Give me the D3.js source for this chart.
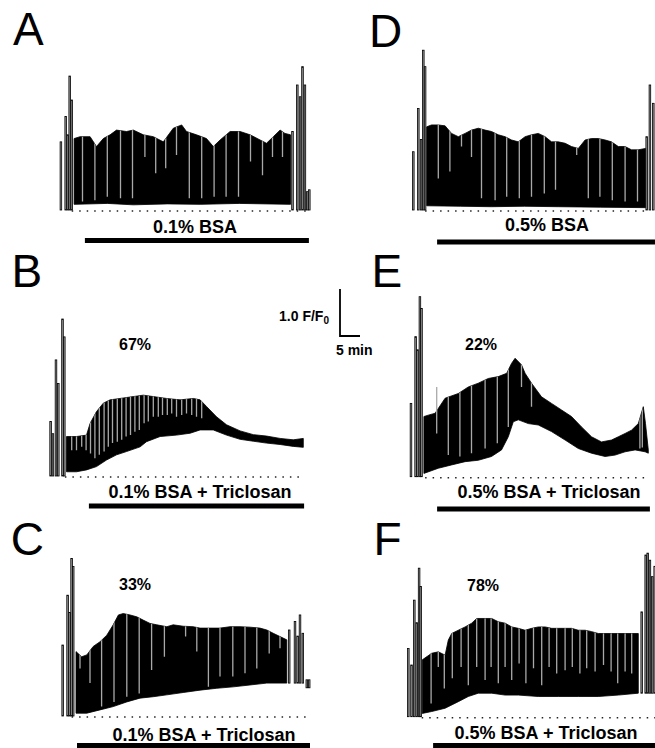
<!DOCTYPE html>
<html>
<head>
<meta charset="utf-8">
<script src="https://cdn.jsdelivr.net/npm/d3@7"></script>
<style>
  body { margin: 0; background: #fff; }
  svg { display: block; }
  text { font-family: "Liberation Sans", Arial, Helvetica, sans-serif; }
</style>
</head>
<body>
<svg id="fig" width="655" height="748"></svg>
<script>
// all traces: time in minutes from the start of the trace,
// value in F/F0 units above the dotted baseline

// ---- A : 0.1% BSA
const aTop = [[3.7,1.52],[5.2,1.56],[7.7,1.56],[9.3,1.35],[11.0,1.52],[12.7,1.6],[14.3,1.7],[16.8,1.67],[18.5,1.7],[21.0,1.6],[23.5,1.56],[26.0,1.45],[28.5,1.74],[30.6,1.81],[31.8,1.67],[34.3,1.6],[36.8,1.52],[38.5,1.35],[40.2,1.49],[42.7,1.67],[45.2,1.67],[47.7,1.6],[50.2,1.49],[51.8,1.42],[53.5,1.56],[55.2,1.7],[56.4,1.63],[57.8,1.6]];
const aBottom = [[3.7,0.12],[12.0,0.14],[18.5,0.11],[27.0,0.13],[35.2,0.12],[45.0,0.14],[57.8,0.12]];
const aGaps = [[5.8,0.18],[8.9,0.21],[12.0,0.28],[15.3,0.25],[18.3,0.25],[21.4,1.13],[24.1,0.78],[26.6,0.89],[29.3,1.17],[32.5,0.25],[35.6,0.25],[38.7,0.28],[41.7,0.28],[44.8,0.28],[47.8,1.03],[50.8,0.74],[53.3,1.13],[55.8,1.13]];
const aSpikes = [[0.4,1.45],[1.6,1.99],[2.1,1.6],[2.6,2.85],[3.1,2.34],[58.3,1.67],[59.5,2.66],[60.2,2.41],[60.8,3.05],[61.4,2.66],[62.0,0.39],[62.5,0.43]];

// ---- D : 0.5% BSA
const dTop = [[3.6,1.77],[4.8,1.81],[6.5,1.81],[8.2,1.79],[9.8,1.63],[11.5,1.56],[13.2,1.63],[14.8,1.7],[16.5,1.74],[18.2,1.7],[19.8,1.67],[21.5,1.6],[23.2,1.56],[24.8,1.49],[26.5,1.45],[28.2,1.56],[29.8,1.6],[31.5,1.63],[33.2,1.56],[34.8,1.45],[36.5,1.45],[38.2,1.42],[39.8,1.35],[41.5,1.31],[43.2,1.49],[44.8,1.52],[46.5,1.52],[48.2,1.49],[49.8,1.45],[51.5,1.35],[53.2,1.35],[54.8,1.28],[56.5,1.28],[58.3,1.31]];
const dBottom = [[3.6,0.09],[12.0,0.08],[19.8,0.07],[28.0,0.08],[36.5,0.07],[47.0,0.06],[58.3,0.05]];
const dGaps = [[6.5,0.67],[9.4,0.82],[12.3,1.35],[14.8,1.13],[17.3,0.25],[20.7,0.21],[23.6,0.28],[26.75,0.25],[29.8,0.28],[33.0,0.35],[35.8,0.43],[41.1,1.17],[44.0,0.25],[46.9,0.28],[50.0,0.21],[53.2,0.18],[56.3,0.18]];
const dSpikes = [[0.25,1.24],[1.5,2.16],[2.2,1.5],[2.75,3.4],[3.2,3.05],[58.6,1.56],[59.4,2.66],[60.25,2.27],[61.0,2.9]];

// ---- B : 0.1% BSA + Triclosan (67%)
const bTop = [[4.3,0.84],[6.8,0.84],[9.3,0.87],[10.2,1.12],[11.8,1.37],[13.5,1.55],[15.2,1.62],[17.7,1.65],[21.0,1.69],[23.5,1.72],[26.0,1.69],[29.3,1.65],[32.7,1.62],[36.0,1.65],[37.7,1.62],[39.3,1.48],[41.8,1.26],[44.3,1.09],[47.7,0.96],[51.0,0.88],[54.3,0.85],[57.7,0.8],[61.0,0.77],[63.5,0.8]];
const bBottom = [[4.3,0.09],[6.8,0.09],[9.3,0.13],[11.8,0.2],[14.3,0.34],[16.8,0.45],[19.3,0.52],[22.7,0.62],[24.3,0.73],[27.7,0.84],[31.8,0.87],[35.2,0.91],[37.7,0.98],[41.0,0.98],[44.3,0.87],[47.7,0.78],[51.0,0.74],[54.3,0.7],[57.7,0.67],[61.0,0.63],[63.5,0.61]];
const bGaps = [[5.6,0.55],[6.8,0.55],[8.1,0.62],[9.2,0.55],[10.3,0.48],[11.4,0.38],[12.5,0.45],[13.7,0.52],[14.75,0.62],[15.8,0.7],[17.0,0.73],[18.1,0.77],[19.2,0.84],[20.3,0.87],[21.4,0.94],[22.5,0.98],[23.7,1.12],[24.75,1.16],[26.0,1.26],[27.25,1.26],[28.3,1.3],[29.5,1.3],[30.6,1.33],[31.8,1.26],[33.1,1.3],[34.3,1.33],[35.6,1.3],[36.8,1.26],[38.1,1.23]];
const bSpikes = [[0.33,1.16],[0.9,0.9],[1.67,2.47],[2.25,1.97],[3.3,3.34],[3.75,2.96]];

// ---- E : 0.5% BSA + Triclosan (22%)
const eTop = [[3.9,1.28],[5.0,1.31],[6.7,1.35],[9.2,1.67],[12.5,1.77],[15.0,1.91],[17.5,1.99],[20.0,2.09],[22.5,2.13],[24.6,2.2],[25.8,2.41],[26.7,2.52],[28.3,2.38],[29.2,2.2],[30.8,1.99],[33.3,1.7],[35.8,1.56],[38.3,1.42],[40.8,1.28],[43.3,1.06],[45.8,0.85],[48.3,0.74],[50.8,0.78],[52.5,0.85],[54.2,0.92],[55.8,0.99],[57.5,1.13],[58.75,1.49],[59.3,1.13],[60.0,0.57]];
const eBottom = [[3.9,0.07],[7.5,0.18],[10.8,0.25],[14.2,0.32],[17.5,0.35],[20.8,0.43],[23.3,0.57],[25.0,0.85],[26.25,1.17],[27.5,1.21],[30.0,1.13],[32.5,1.1],[35.8,0.96],[39.2,0.78],[42.5,0.6],[45.8,0.5],[49.2,0.43],[51.7,0.46],[54.2,0.53],[56.7,0.57],[59.2,0.53],[60.0,0.5]];
const eGaps = [[7.1,0.92,1.91],[10.0,0.46],[12.9,0.43],[15.8,0.5],[19.2,0.6],[22.25,0.71],[25.0,1.06],[28.3,1.91],[30.8,1.49],[57.9,0.6],[58.5,0.62]];
const eSpikes = [[0.67,1.56],[1.83,2.98],[2.3,2.7],[2.9,3.83],[3.3,3.58]];

// ---- C : 0.1% BSA + Triclosan (33%)
const cTop = [[4.0,1.37],[5.4,1.26],[6.7,1.3],[8.3,1.48],[10.0,1.58],[11.7,1.72],[13.3,1.94],[14.6,2.15],[15.8,2.18],[17.5,2.15],[19.2,2.11],[20.8,2.04],[22.5,1.97],[24.2,1.94],[26.7,1.9],[28.3,1.94],[30.8,1.91],[33.3,1.9],[35.0,1.87],[37.5,1.87],[40.0,1.87],[42.5,1.9],[45.0,1.9],[47.5,1.89],[50.0,1.87],[51.7,1.83],[53.3,1.76],[55.0,1.69],[56.7,1.62]];
const cBottom = [[4.0,0.06],[6.7,0.06],[10.0,0.13],[13.3,0.2],[16.7,0.3],[20.0,0.38],[23.3,0.41],[26.7,0.45],[30.8,0.5],[35.0,0.55],[39.2,0.59],[43.3,0.62],[47.5,0.66],[51.7,0.7],[56.7,0.7]];
const cGaps = [[5.0,1.01],[7.5,0.7],[10.4,0.2],[13.5,0.3],[16.7,0.41],[19.8,0.48],[22.9,0.98],[26.1,1.26],[31.4,1.69],[34.2,1.37],[37.1,0.62],[40.0,0.84],[43.2,0.84],[46.25,0.91],[49.2,1.01],[52.3,1.33],[55.0,1.44]];
const cSpikes = [[0.67,1.51],[1.9,2.57],[2.4,2.2],[2.9,3.35],[3.3,3.18],[57.3,1.83,0.7],[58.75,2.01,0.7],[59.4,1.7,0.7],[60.0,2.15,0.7],[60.7,1.76,0.7],[61.7,0.77,0.6],[62.3,0.77,0.6]];

// ---- F : 0.5% BSA + Triclosan (78%)
const fTop = [[3.9,1.21],[6.25,1.35],[7.9,1.38],[9.6,1.31],[10.4,1.63],[11.25,1.77],[12.9,1.84],[14.6,1.91],[16.25,1.99],[17.5,2.09],[19.6,2.09],[21.25,2.09],[22.9,2.02],[24.6,1.99],[26.25,1.91],[27.9,1.88],[29.6,1.84],[31.25,1.88],[32.9,1.91],[34.6,1.91],[36.25,1.88],[37.9,1.88],[39.6,1.88],[41.25,1.88],[42.9,1.84],[44.6,1.84],[46.25,1.81],[47.9,1.77],[51.25,1.77],[54.6,1.77],[57.9,1.77]];
const fBottom = [[3.9,0.07],[6.25,0.11],[9.6,0.18],[12.9,0.32],[15.4,0.43],[17.9,0.5],[21.25,0.5],[24.6,0.46],[27.9,0.46],[32.9,0.43],[37.9,0.43],[42.9,0.43],[47.9,0.43],[52.9,0.46],[57.9,0.5]];
const fGaps = [[6.1,0.28],[7.9,1.06],[9.4,0.6],[11.4,0.82],[13.6,1.06],[15.4,0.67],[17.5,1.06],[19.6,0.78],[21.1,1.06],[22.9,0.71],[24.6,1.06],[26.25,0.78],[28.1,1.13],[29.8,0.71],[31.7,1.03],[33.75,0.67],[35.6,1.06],[37.5,0.92],[39.6,0.99],[41.4,1.06],[43.3,0.92],[45.0,1.03],[47.1,0.96],[49.2,1.1],[51.1,0.96],[52.75,0.71],[54.6,0.96],[56.25,0.92]];
const fSpikes = [[0.4,1.45],[1.2,1.1],[1.9,2.48],[2.5,2.0],[3.1,3.16],[3.5,2.77],[58.75,2.23,0.5],[59.75,3.44,0.5],[60.25,3.48,0.5],[60.8,3.33,0.5],[61.4,2.98,0.5],[62.0,3.2,0.5]];

// treatment bar (min) and dotted baseline (min)
const barSpans = { A: [6.4, 62.4], D: [6.2, 62], B: [9.9, 63.7], E: [7.2, 60.4], C: [4.25, 62.5], F: [6.6, 62.5] };
const dotSpans = { A: [3.1, 62.7], D: [3.2, 58.2], B: [3.9, 63.9], E: [4.2, 59.2], C: [2.9, 62.9], F: [3.75, 62.5] };
const labels = { A: "0.1% BSA", D: "0.5% BSA", B: "0.1% BSA + Triclosan", E: "0.5% BSA + Triclosan", C: "0.1% BSA + Triclosan", F: "0.5% BSA + Triclosan" };
const percents = { A: null, D: null, B: "67%", E: "22%", C: "33%", F: "78%" };

// layout of the six panels (pixels)
const panels = [
  { id: "A", top: aTop, bottom: aBottom, gaps: aGaps, spikes: aSpikes, x0: 59.3, base: 210, lx: 13, ly: 45, labX: 195, labY: 233, barY: 240.5, pctX: 0, pctY: 0 },
  { id: "D", top: dTop, bottom: dBottom, gaps: dGaps, spikes: dSpikes, x0: 412.3, base: 210, lx: 369, ly: 47, labX: 547, labY: 231, barY: 242, pctX: 0, pctY: 0 },
  { id: "B", top: bTop, bottom: bBottom, gaps: bGaps, spikes: bSpikes, x0: 49.3, base: 476, lx: 11.5, ly: 287, labX: 200, labY: 498, barY: 506, pctX: 119, pctY: 350 },
  { id: "E", top: eTop, bottom: eBottom, gaps: eGaps, spikes: eSpikes, x0: 408.3, base: 476.7, lx: 371.5, ly: 287, labX: 549, labY: 498, barY: 509, pctX: 465, pctY: 350 },
  { id: "C", top: cTop, bottom: cBottom, gaps: cGaps, spikes: cSpikes, x0: 60, base: 716, lx: 10.7, ly: 555, labX: 204, labY: 741, barY: 745.5, pctX: 119, pctY: 590 },
  { id: "F", top: fTop, bottom: fBottom, gaps: fGaps, spikes: fSpikes, x0: 406.7, base: 716.7, lx: 373.5, ly: 555, labX: 546, labY: 739, barY: 745.5, pctX: 467, pctY: 591 }
];

const pxPerMin = 4;   // 5 min = 20 px
const pxPerUnit = 47; // 1.0 F/F0 = 47 px

const svg = d3.select("#fig");
const defs = svg.append("defs");

panels.forEach(p => {
  const x = d3.scaleLinear().domain([0, 65]).range([p.x0, p.x0 + 65 * pxPerMin]);
  const y = d3.scaleLinear().domain([0, 4]).range([p.base, p.base - 4 * pxPerUnit]);
  const g = svg.append("g");

  // panel letter
  g.append("text")
    .attr("x", p.lx).attr("y", p.ly)
    .style("font-size", "46px")
    .text(p.id);

  // dotted baseline
  const ds = dotSpans[p.id];
  g.append("line")
    .attr("x1", x(ds[0])).attr("x2", x(ds[1]))
    .attr("y1", y(0) + 1).attr("y2", y(0) + 1)
    .attr("stroke", "#222").attr("stroke-width", 1.4)
    .attr("stroke-dasharray", "1.5 6");

  // black block of the trace
  const line = d3.line().x(d => x(d[0])).y(d => y(d[1]));
  const outline = p.top.concat(p.bottom.slice().reverse());
  defs.append("clipPath").attr("id", "clip" + p.id)
    .append("path").attr("d", line(outline) + "Z");
  g.append("path")
    .attr("d", line(outline) + "Z")
    .attr("fill", "#000")
    .attr("stroke", "#000").attr("stroke-width", 0.8);

  // grey gaps inside the block
  g.append("g").attr("clip-path", `url(#clip${p.id})`)
    .selectAll("line").data(p.gaps.filter(d => d.length === 2)).join("line")
    .attr("x1", d => x(d[0])).attr("x2", d => x(d[0]))
    .attr("y1", d => y(d[1])).attr("y2", y(4))
    .attr("stroke", "#a9a9a9").attr("stroke-width", 1.3);
  g.selectAll("line.free").data(p.gaps.filter(d => d.length === 3)).join("line")
    .attr("class", "free")
    .attr("x1", d => x(d[0])).attr("x2", d => x(d[0]))
    .attr("y1", d => y(d[1])).attr("y2", d => y(d[2]))
    .attr("stroke", "#a9a9a9").attr("stroke-width", 1.3);

  // stimulation spikes
  g.selectAll("rect.spike").data(p.spikes).join("rect")
    .attr("class", "spike")
    .attr("x", d => x(d[0]) - 0.8).attr("width", 1.6)
    .attr("y", d => y(d[1]))
    .attr("height", d => y(d[2] || 0) - y(d[1]))
    .attr("fill", "#9a9a9a").attr("stroke", "#000").attr("stroke-width", 0.8);

  // percent
  if (percents[p.id]) {
    g.append("text")
      .attr("x", p.pctX).attr("y", p.pctY)
      .style("font-size", "16px").style("font-weight", "bold")
      .text(percents[p.id]);
  }

  // treatment label and bar
  g.append("text")
    .attr("x", p.labX).attr("y", p.labY)
    .attr("text-anchor", "middle")
    .style("font-size", "18px").style("font-weight", "bold")
    .text(labels[p.id]);
  const bs = barSpans[p.id];
  g.append("line")
    .attr("x1", x(bs[0])).attr("x2", x(bs[1]))
    .attr("y1", p.barY).attr("y2", p.barY)
    .attr("stroke", "#000").attr("stroke-width", 5);
});

// scale bar: 1.0 F/F0 by 5 min
const sx = d3.scaleLinear().domain([0, 5]).range([340, 340 + 5 * pxPerMin]);
const sy = d3.scaleLinear().domain([0, 1]).range([336, 336 - pxPerUnit]);
svg.append("path")
  .attr("d", `M${sx(0)},${sy(1)}V${sy(0)}H${sx(5)}`)
  .attr("fill", "none").attr("stroke", "#000").attr("stroke-width", 1.8);
const fLab = svg.append("text")
  .attr("x", 329).attr("y", 321)
  .attr("text-anchor", "end")
  .style("font-size", "14px").style("font-weight", "bold");
fLab.append("tspan").text("1.0 F/F");
fLab.append("tspan").attr("dy", 3).style("font-size", "10px").text("0");
svg.append("text")
  .attr("x", 336).attr("y", 355)
  .style("font-size", "14px").style("font-weight", "bold")
  .text("5 min");
</script>
</body>
</html>
